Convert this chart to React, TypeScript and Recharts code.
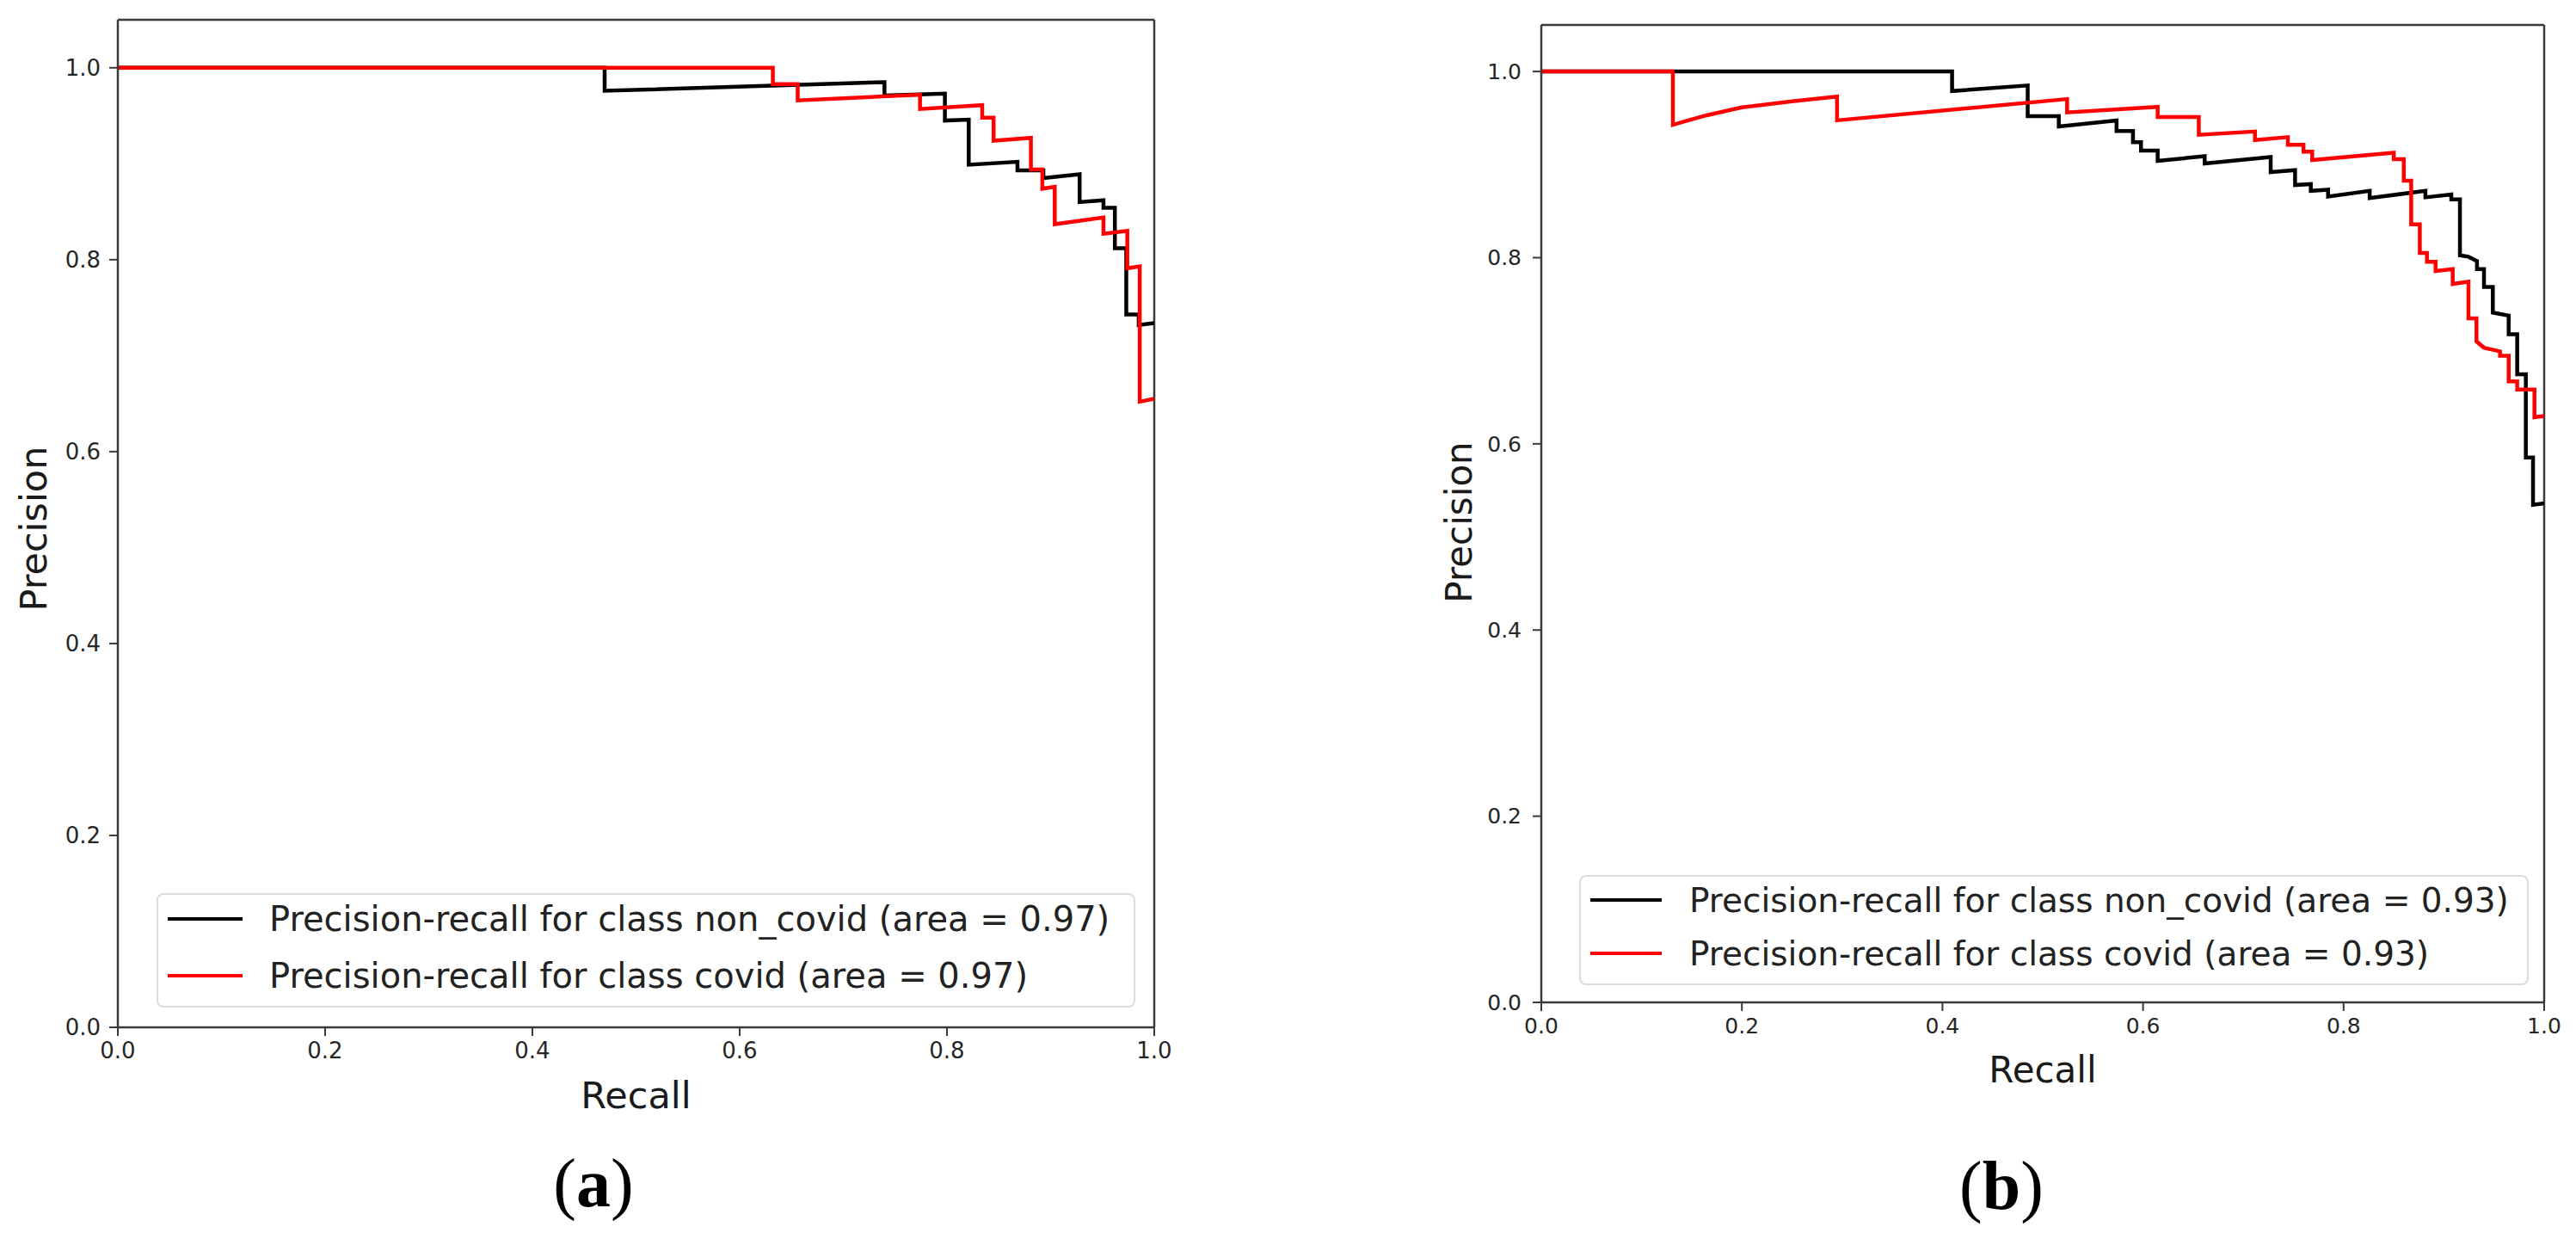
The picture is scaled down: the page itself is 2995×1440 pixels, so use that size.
import React from "react"
import { LineChart, Line, XAxis, YAxis, Legend, ReferenceLine, Label } from "recharts"

// [recall, precision] points, in plotting order
const nonCovidA = [
  [0, 1], [0.4697, 1], [0.4697, 0.976], [0.7397, 0.985], [0.7397, 0.971], [0.798, 0.973],
  [0.798, 0.945], [0.821, 0.946], [0.821, 0.899], [0.868, 0.902], [0.868, 0.893], [0.893, 0.893],
  [0.893, 0.885], [0.928, 0.889], [0.928, 0.86], [0.951, 0.862], [0.951, 0.854], [0.962, 0.854],
  [0.962, 0.812], [0.973, 0.812], [0.973, 0.743], [0.985, 0.743], [0.985, 0.732], [1, 0.734],
]

const covidA = [
  [0, 1], [0.632, 1], [0.632, 0.983], [0.656, 0.983], [0.656, 0.966], [0.774, 0.972],
  [0.774, 0.957], [0.834, 0.961], [0.834, 0.948], [0.845, 0.948], [0.845, 0.924], [0.881, 0.927],
  [0.881, 0.894], [0.892, 0.894], [0.892, 0.874], [0.904, 0.876], [0.904, 0.837], [0.951, 0.844],
  [0.951, 0.827], [0.974, 0.83], [0.974, 0.791], [0.986, 0.793], [0.986, 0.652], [1, 0.655],
]

const nonCovidB = [
  [0, 1], [0.4096, 1], [0.4096, 0.979], [0.485, 0.985], [0.485, 0.952], [0.516, 0.952],
  [0.516, 0.941], [0.5736, 0.9475], [0.5736, 0.936], [0.59, 0.936], [0.59, 0.924], [0.598, 0.924],
  [0.598, 0.915], [0.6146, 0.915], [0.6146, 0.904], [0.6615, 0.909], [0.6615, 0.9011],
  [0.7273, 0.9082], [0.7273, 0.8919], [0.7516, 0.894], [0.7516, 0.878], [0.7673, 0.879],
  [0.7673, 0.8718], [0.7845, 0.873], [0.7845, 0.8657], [0.826, 0.8718], [0.826, 0.8641],
  [0.8816, 0.8718], [0.8816, 0.8648], [0.9074, 0.8678], [0.9074, 0.8626], [0.916, 0.8626],
  [0.916, 0.8025], [0.9245, 0.801], [0.933, 0.7964], [0.933, 0.7877], [0.94, 0.7877],
  [0.94, 0.7686], [0.9488, 0.7686], [0.9488, 0.741], [0.9646, 0.7378], [0.9646, 0.7178],
  [0.9731, 0.7178], [0.9731, 0.6747], [0.9817, 0.6747], [0.9817, 0.5853], [0.9889, 0.5853],
  [0.9889, 0.5345], [1, 0.536],
]

const covidB = [
  [0, 1], [0.1312, 1], [0.1312, 0.9427], [0.145, 0.947], [0.165, 0.953], [0.2, 0.9615],
  [0.25, 0.968], [0.2949, 0.973], [0.2949, 0.9475], [0.5243, 0.9704], [0.5243, 0.956], [0.6146, 0.962],
  [0.6146, 0.951], [0.6556, 0.951], [0.6556, 0.932], [0.7116, 0.9356], [0.7116, 0.9264],
  [0.7444, 0.9295], [0.7444, 0.9212], [0.76, 0.9212], [0.76, 0.914], [0.7687, 0.914],
  [0.7687, 0.9048], [0.85, 0.9128], [0.85, 0.9057], [0.86, 0.9057], [0.86, 0.8826],
  [0.8674, 0.8826], [0.8674, 0.8358], [0.876, 0.8358], [0.876, 0.805], [0.8831, 0.805],
  [0.8831, 0.7957], [0.8917, 0.7957], [0.8917, 0.7856], [0.9088, 0.7877], [0.9088, 0.7717],
  [0.9245, 0.7742], [0.9245, 0.7348], [0.9325, 0.7348], [0.9325, 0.71], [0.94, 0.7033],
  [0.956, 0.6993], [0.956, 0.6947], [0.9646, 0.6947], [0.9646, 0.667], [0.9731, 0.667],
  [0.9731, 0.6583], [0.9903, 0.6583], [0.9903, 0.6285], [1, 0.63],
]

const xTicks = [0, 0.2, 0.4, 0.6, 0.8, 1]
const yTicks = [0, 0.2, 0.4, 0.6, 0.8, 1]
const areaA = "0.97"
const areaB = "0.93"

const toPts = (rows: number[][]) => rows.map(([recall, precision]) => ({ recall, precision }))
const fmt = (v: number) => v.toFixed(1)

const FONT = "DejaVu Sans"
const SPINE = "#3a3a3a"

function LegendBox({ payload, lg }: any) {
  // keep the series order of the original legend: non_covid first
  const items = [...(payload || [])].sort(
    (a: any, b: any) => Number(!String(a.value).includes("non_covid")) - Number(!String(b.value).includes("non_covid"))
  )
  return (
    <div
      style={{
        width: lg.width,
        height: lg.height,
        boxSizing: "border-box",
        border: "2px solid #dcdcdc",
        borderRadius: 8,
        background: "#fff",
        overflow: "hidden",
      }}
    >
      <div style={{ position: "relative", top: lg.shift }}>
        {items.map((entry: any) => (
          <div key={entry.value} style={{ display: "flex", alignItems: "center", height: lg.row }}>
            <div style={{ marginLeft: lg.swatchLeft, width: lg.swatch, height: 4, background: entry.color }} />
            <span
              style={{
                marginLeft: lg.gap,
                fontSize: lg.font,
                fontFamily: FONT,
                color: "#222",
                whiteSpace: "nowrap",
                lineHeight: 1,
              }}
            >
              {entry.value}
            </span>
          </div>
        ))}
      </div>
    </div>
  )
}

function PRPanel({ nonCovid, covid, area, box }: any) {
  const tick = { fontSize: box.tickFont, fill: "#262626", fontFamily: FONT }
  const title = { fontSize: box.titleFont, fill: "#1a1a1a", fontFamily: FONT }
  return (
    <div style={{ position: "absolute", left: box.left, top: 0, width: box.width, height: box.height, overflow: "hidden" }}>
      <LineChart width={box.width} height={box.height} margin={box.margin}>
        <XAxis
          type="number"
          dataKey="recall"
          domain={[0, 1]}
          ticks={xTicks}
          tickFormatter={fmt}
          allowDataOverflow
          height={100}
          tickSize={10}
          tickMargin={8}
          tick={tick}
          axisLine={{ stroke: SPINE, strokeWidth: 2.5 }}
          tickLine={{ stroke: SPINE, strokeWidth: 2 }}
        >
          <Label value="Recall" position="insideBottom" offset={box.recallOffset} style={title} />
        </XAxis>
        <YAxis
          type="number"
          domain={[0, 1.05]}
          ticks={yTicks}
          tickFormatter={fmt}
          allowDataOverflow
          width={box.plotLeft}
          tickSize={10}
          tickMargin={box.yTickMargin}
          tick={tick}
          axisLine={{ stroke: SPINE, strokeWidth: 2.5 }}
          tickLine={{ stroke: SPINE, strokeWidth: 2 }}
        >
          <Label value="Precision" angle={-90} position="center" dx={box.precDx} dy={box.precDy} style={title} />
        </YAxis>
        <ReferenceLine y={1.05} stroke={SPINE} strokeWidth={2.5} />
        <ReferenceLine x={1} stroke={SPINE} strokeWidth={2.5} />
        <Line
          data={toPts(nonCovid)}
          dataKey="precision"
          name={`Precision-recall for class non_covid (area = ${area})`}
          type="linear"
          stroke="#000000"
          strokeWidth={4.5}
          dot={false}
          activeDot={false}
          isAnimationActive={false}
        />
        <Line
          data={toPts(covid)}
          dataKey="precision"
          name={`Precision-recall for class covid (area = ${area})`}
          type="linear"
          stroke="#ff0000"
          strokeWidth={4.5}
          dot={false}
          activeDot={false}
          isAnimationActive={false}
        />
        <Legend
          layout="vertical"
          align="center"
          verticalAlign="middle"
          wrapperStyle={{ left: box.legend.left, top: box.legend.top, width: box.legend.width, height: box.legend.height }}
          content={(props: any) => <LegendBox payload={props.payload} lg={box.legend} />}
        />
      </LineChart>
    </div>
  )
}

const panelA = {
  left: 0,
  width: 1362,
  height: 1310,
  margin: { top: 23, right: 20, bottom: 16, left: 0 },
  plotLeft: 137,
  yTickMargin: 10,
  tickFont: 26,
  titleFont: 43,
  recallOffset: 6,
  precDx: -30,
  precDy: 6,
  legend: { left: 182, top: 1038, width: 1138, height: 133, row: 66, shift: -5, swatchLeft: 11, swatch: 87, gap: 31, font: 40 },
}

const panelB = {
  left: 1500,
  width: 1477,
  height: 1280,
  margin: { top: 29, right: 19, bottom: 15, left: 0 },
  plotLeft: 292,
  yTickMargin: 13,
  tickFont: 25,
  titleFont: 42,
  recallOffset: 7,
  precDx: 50,
  precDy: 10,
  legend: { left: 336, top: 1017, width: 1104, height: 128, row: 62, shift: -4, swatchLeft: 11, swatch: 83, gap: 32, font: 39 },
}

const captionStyle: React.CSSProperties = {
  position: "absolute",
  width: 400,
  textAlign: "center",
  fontFamily: "Liberation Serif",
  fontSize: 80,
  lineHeight: "80px",
  color: "#000",
}

export default function App() {
  return (
    <div style={{ position: "absolute", left: 0, top: 0, width: 2995, height: 1440, background: "#fff", overflow: "hidden" }}>
      <PRPanel nonCovid={nonCovidA} covid={covidA} area={areaA} box={panelA} />
      <PRPanel nonCovid={nonCovidB} covid={covidB} area={areaB} box={panelB} />
      <div style={{ ...captionStyle, left: 690 - 200, top: 1335 }}>
        (<b>a</b>)
      </div>
      <div style={{ ...captionStyle, left: 2327 - 200, top: 1338 }}>
        (<b>b</b>)
      </div>
    </div>
  )
}
